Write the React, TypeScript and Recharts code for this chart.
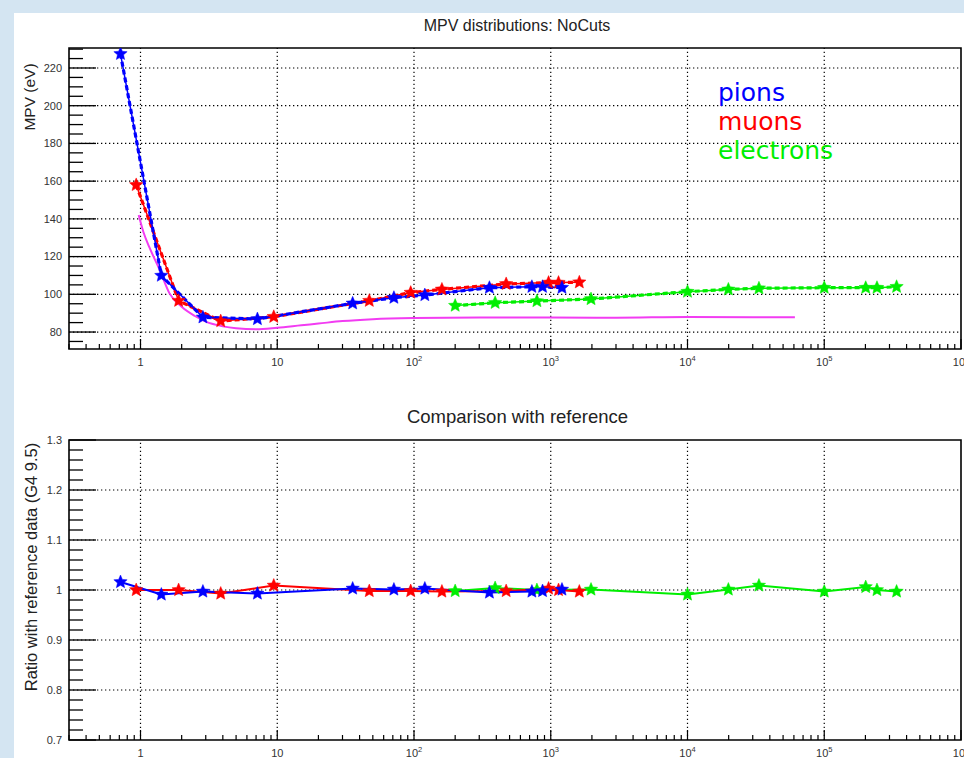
import React from 'react';
import { LineChart, Line, XAxis, YAxis, ReferenceLine, ReferenceArea, Legend } from 'recharts';

// ---------- data ----------
const pionE = [0.714, 1.42, 2.86, 7.16, 35.6, 71.3, 120, 356, 728, 871, 1208];
const pionMPV = [227.5, 109.9, 87.8, 86.9, 95.2, 98.2, 99.6, 103.5, 104, 104, 103.5];
const pionRatio = [1.016, 0.991, 0.997, 0.993, 1.003, 1.001, 1.003, 0.995, 0.997, 0.998, 1.001];

const muonE = [0.93, 1.9, 3.86, 9.43, 47.1, 94.6, 160, 472, 964, 1140, 1618];
const muonMPV = [158, 96.6, 85.8, 88.1, 96.6, 100.9, 102.6, 105.5, 106.2, 106.2, 106.4];
const muonRatio = [1.0, 1.0, 0.993, 1.009, 0.998, 0.998, 0.997, 0.998, 1.003, 1.0, 0.997];

const electronE = [200, 392, 792, 1970, 10000, 19900, 33300, 100000, 201000, 243000, 338000];
const electronMPV = [94, 95.5, 96.4, 97.5, 101.4, 102.6, 103.2, 103.5, 103.5, 103.5, 104];
const electronRatio = [0.998, 1.004, 1.0, 1.001, 0.991, 1.001, 1.009, 0.997, 1.006, 1.0, 0.997];

const refE = [0.97, 1.05, 1.16, 1.38, 1.63, 2, 2.5, 3, 4, 5, 7, 10, 15, 20, 30, 50, 100, 300, 1000, 3000, 10000, 30000, 61000];
const refMPV = [142, 133, 125, 113, 100.5, 93.4, 88.5, 85.5, 83, 82, 81.5, 82.3, 83.6, 84.5, 85.8, 86.8, 87.4, 87.7, 87.7, 87.6, 88, 87.9, 87.8];

const legendOrder = ['pions', 'muons', 'electrons'];

// ---------- axes ----------
const xDomain = [0.3, 1e6];
const xMajor = [1, 10, 100, 1000, 10000, 100000, 1000000];
const xMinorMultipliers = [2, 3, 4, 5, 6, 7, 8, 9];
const xMinorBelowOne = [0.3, 0.4, 0.5, 0.6, 0.7, 0.8, 0.9];
const xTicks = [
  ...xMinorBelowOne,
  ...xMajor,
  ...xMajor.slice(0, -1).flatMap((d) => xMinorMultipliers.map((m) => m * d)),
].sort((a, b) => a - b);
const xGrid = [1, 10, 100, 1000, 10000, 100000];

const mpvDomain = [71, 230.6];
const mpvMajor = [80, 100, 120, 140, 160, 180, 200, 220];
const mpvMinor = [75, 85, 90, 95, 105, 110, 115, 125, 130, 135, 145, 150, 155, 165, 170, 175, 185, 190, 195, 205, 210, 215, 225, 230];
const mpvTicks = [...mpvMajor, ...mpvMinor].sort((a, b) => a - b);

const ratioDomain = [0.7, 1.3];
const ratioMajor = [0.7, 0.8, 0.9, 1.0, 1.1, 1.2, 1.3];
const ratioMinor = [0.72, 0.74, 0.76, 0.78, 0.82, 0.84, 0.86, 0.88, 0.92, 0.94, 0.96, 0.98, 1.02, 1.04, 1.06, 1.08, 1.12, 1.14, 1.16, 1.18, 1.22, 1.24, 1.26, 1.28];
const ratioTicks = [...ratioMajor, ...ratioMinor].sort((a, b) => a - b);
const ratioLabels = ['0.7', '0.8', '0.9', '1', '1.1', '1.2', '1.3'];

const zip = (xs: number[], ys: number[]) => xs.map((x, i) => ({ x, y: ys[i] }));

const pionTop = zip(pionE, pionMPV);
const muonTop = zip(muonE, muonMPV);
const elecTop = zip(electronE, electronMPV);
const refTop = zip(refE, refMPV);
const pionBot = zip(pionE, pionRatio);
const muonBot = zip(muonE, muonRatio);
const elecBot = zip(electronE, electronRatio);

const BLUE = '#0000ff';
const RED = '#ff0000';
const GREEN = '#00ee00';
const MAGENTA = '#f23cf2';
const FONT = '"Liberation Sans", Arial, Helvetica, sans-serif';
const TICK_COLOR = '#333';

const isMajorX = (v: number) => xMajor.some((m) => Math.abs(m - v) / m < 1e-9);

const XTick = (props: any) => {
  const { x, y, payload } = props;
  const v = payload.value;
  const major = isMajorX(v);
  const len = major ? 10 : 5;
  const exp = Math.round(Math.log10(v));
  return (
    <g>
      <line x1={x} x2={x} y1={y} y2={y - len} stroke="#000" strokeWidth={1.2} />
      {major && (
        <text x={x} y={y + 17} textAnchor="middle" fontSize={11} fontFamily={FONT} fill={TICK_COLOR}>
          {exp <= 1 ? (
            <tspan>{String(v)}</tspan>
          ) : (
            <>
              <tspan>10</tspan>
              <tspan dy={-5} fontSize={7.5}>{exp}</tspan>
            </>
          )}
        </text>
      )}
    </g>
  );
};

const makeYTick = (majors: number[], labels: string[]) => (props: any) => {
  const { x, y, payload } = props;
  const idx = majors.findIndex((m) => Math.abs(m - payload.value) < 1e-9);
  const major = idx >= 0;
  return (
    <g>
      <line x1={x} x2={x + (major ? 27 : 14)} y1={y} y2={y} stroke="#000" strokeWidth={1.3} />
      {major && (
        <text x={x - 7} y={y} dy="0.35em" textAnchor="end" fontSize={11} fontFamily={FONT} fill={TICK_COLOR}>
          {labels[idx]}
        </text>
      )}
    </g>
  );
};

const Star = (props: any) => {
  const { cx, cy, color } = props;
  if (cx == null || cy == null) return <g />;
  const R = 7;
  const r = 3.2;
  const pts: string[] = [];
  for (let i = 0; i < 10; i++) {
    const ang = -Math.PI / 2 + (i * Math.PI) / 5;
    const rad = i % 2 === 0 ? R : r;
    pts.push(`${cx + rad * Math.cos(ang)},${cy + rad * Math.sin(ang)}`);
  }
  return <polygon points={pts.join(' ')} fill={color} stroke={color} strokeWidth={0.5} />;
};

const starDot = (color: string) => (p: any) => <Star key={`s-${p.index}`} cx={p.cx} cy={p.cy} color={color} />;

const renderLegend = (props: any) => {
  const items = (props.payload || []).filter((it: any) => legendOrder.includes(it.value));
  items.sort((a: any, b: any) => legendOrder.indexOf(a.value) - legendOrder.indexOf(b.value));
  return (
    <div style={{ fontFamily: '"DejaVu Sans", sans-serif', fontSize: 25, lineHeight: '29px' }}>
      {items.map((it: any) => (
        <div key={it.value} style={{ color: it.color }}>{it.value}</div>
      ))}
    </div>
  );
};

const gridLines = (ys: number[]) => [
  ...xGrid.map((v) => (
    <ReferenceLine key={`gx${v}`} x={v} stroke="#000" strokeWidth={1.2} strokeDasharray="1.3 2.7" ifOverflow="visible" />
  )),
  ...ys.map((v) => (
    <ReferenceLine key={`gy${v}`} y={v} stroke="#000" strokeWidth={1.2} strokeDasharray="1.3 2.7" ifOverflow="visible" />
  )),
];

const absText = (extra: React.CSSProperties): React.CSSProperties => ({
  position: 'absolute',
  whiteSpace: 'nowrap',
  lineHeight: 1,
  fontFamily: FONT,
  color: '#222',
  ...extra,
});

export default function App() {
  const TopYTick = makeYTick(mpvMajor, mpvMajor.map(String));
  const BotYTick = makeYTick(ratioMajor, ratioLabels);
  return (
    <div style={{ position: 'absolute', left: 0, top: 0, width: 964, height: 758, background: '#d4e5f2', overflow: 'hidden' }}>
      <div style={{ position: 'absolute', left: 14, top: 13, width: 950, height: 745, background: '#ffffff' }} />

      <div style={absText({ left: 517, top: 17.5, fontSize: 16, transform: 'translateX(-50%)' })}>MPV distributions: NoCuts</div>
      <div style={absText({ left: 517.5, top: 408, fontSize: 18.5, transform: 'translateX(-50%)' })}>Comparison with reference</div>
      <div style={absText({ left: 30, top: 96.5, fontSize: 15.5, transform: 'translate(-50%, -50%) rotate(-90deg)' })}>MPV (eV)</div>
      <div style={absText({ left: 30.5, top: 566.5, fontSize: 16.5, transform: 'translate(-50%, -50%) rotate(-90deg)' })}>Ratio with reference data (G4 9.5)</div>

      <div style={{ position: 'absolute', left: 0, top: 0 }}>
        <LineChart width={964} height={380} margin={{ top: 48, right: 3, bottom: 6, left: 0 }}>
          <XAxis
            type="number"
            dataKey="x"
            scale="log"
            domain={xDomain}
            allowDataOverflow
            ticks={xTicks}
            interval={0}
            tickSize={0}
            tickMargin={0}
            tickLine={false}
            axisLine={false}
            tick={XTick}
            height={25}
          />
          <YAxis
            type="number"
            domain={mpvDomain}
            allowDataOverflow
            ticks={mpvTicks}
            interval={0}
            tickSize={0}
            tickMargin={0}
            tickLine={false}
            axisLine={false}
            tick={TopYTick}
            width={69}
          />
          {gridLines(mpvMajor)}
          <Legend
            content={renderLegend}
            layout="vertical"
            align="center"
            verticalAlign="middle"
            wrapperStyle={{ left: 718, top: 78, width: 200 }}
          />
          <Line data={refTop} dataKey="y" type="monotone" stroke={MAGENTA} strokeWidth={2} dot={false} legendType="none" isAnimationActive={false} />
          <Line data={elecTop} dataKey="y" type="linear" stroke={GREEN} strokeWidth={3.2} strokeDasharray="5 3" dot={false} legendType="none" isAnimationActive={false} />
          <Line data={elecTop} dataKey="y" name="electrons" type="linear" stroke={GREEN} strokeWidth={1.5} dot={starDot(GREEN)} isAnimationActive={false} />
          <Line data={muonTop} dataKey="y" type="linear" stroke={RED} strokeWidth={3.2} strokeDasharray="5 3" dot={false} legendType="none" isAnimationActive={false} />
          <Line data={muonTop} dataKey="y" name="muons" type="linear" stroke={RED} strokeWidth={1.5} dot={starDot(RED)} isAnimationActive={false} />
          <Line data={pionTop} dataKey="y" type="linear" stroke={BLUE} strokeWidth={3.2} strokeDasharray="5 3" dot={false} legendType="none" isAnimationActive={false} />
          <Line data={pionTop} dataKey="y" name="pions" type="linear" stroke={BLUE} strokeWidth={1.5} dot={starDot(BLUE)} isAnimationActive={false} />
          <ReferenceArea x1={xDomain[0]} x2={xDomain[1]} y1={mpvDomain[0]} y2={mpvDomain[1]} fill="none" stroke="#000" strokeWidth={1.6} ifOverflow="visible" />
        </LineChart>
      </div>

      <div style={{ position: 'absolute', left: 0, top: 380 }}>
        <LineChart width={964} height={378} margin={{ top: 60, right: 3, bottom: 0, left: 0 }}>
          <XAxis
            type="number"
            dataKey="x"
            scale="log"
            domain={xDomain}
            allowDataOverflow
            ticks={xTicks}
            interval={0}
            tickSize={0}
            tickMargin={0}
            tickLine={false}
            axisLine={false}
            tick={XTick}
            height={18}
          />
          <YAxis
            type="number"
            domain={ratioDomain}
            allowDataOverflow
            ticks={ratioTicks}
            interval={0}
            tickSize={0}
            tickMargin={0}
            tickLine={false}
            axisLine={false}
            tick={BotYTick}
            width={69}
          />
          {gridLines(ratioMajor.slice(1, -1))}
          <Line data={elecBot} dataKey="y" name="electrons" type="linear" stroke={GREEN} strokeWidth={2} dot={starDot(GREEN)} isAnimationActive={false} />
          <Line data={muonBot} dataKey="y" name="muons" type="linear" stroke={RED} strokeWidth={2} dot={starDot(RED)} isAnimationActive={false} />
          <Line data={pionBot} dataKey="y" name="pions" type="linear" stroke={BLUE} strokeWidth={2} dot={starDot(BLUE)} isAnimationActive={false} />
          <ReferenceArea x1={xDomain[0]} x2={xDomain[1]} y1={ratioDomain[0]} y2={ratioDomain[1]} fill="none" stroke="#000" strokeWidth={1.6} ifOverflow="visible" />
        </LineChart>
      </div>
    </div>
  );
}
